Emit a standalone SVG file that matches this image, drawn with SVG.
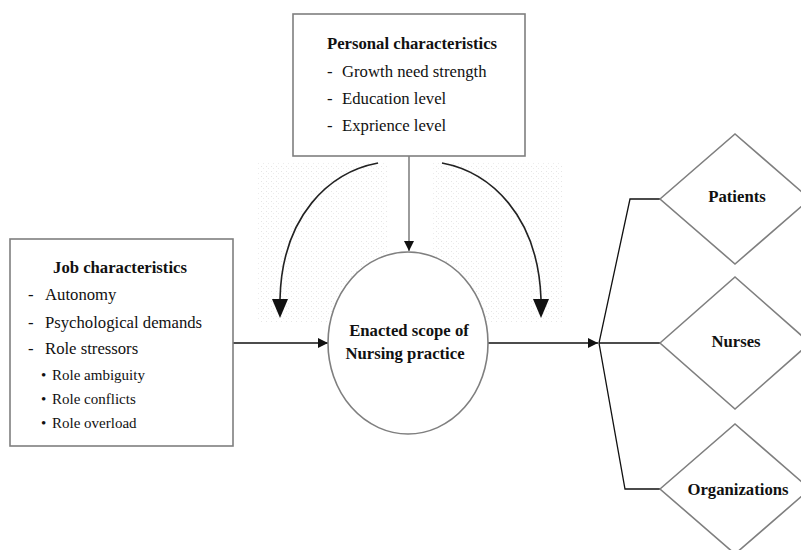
<svg xmlns="http://www.w3.org/2000/svg" width="801" height="550" viewBox="0 0 801 550">
<style>
.box{fill:#fff;stroke:#7f7f7f;stroke-width:1.6}
.t{font-family:"Liberation Serif","Times New Roman",serif;fill:#111}
.b{font-weight:bold;font-size:16.7px}
.r{font-size:16.7px}
.s{font-size:15px}
.ln{fill:none;stroke:#111;stroke-width:1.3}
.arc{fill:none;stroke:#222;stroke-width:1.6}
.gl{fill:none;stroke:#666;stroke-width:1.3}
</style>
<defs>
<pattern id="dots" width="5" height="5" patternUnits="userSpaceOnUse">
<rect x="1" y="1" width="1" height="1" fill="#e6e6e6"/>
<rect x="3" y="3" width="1" height="1" fill="#ececec"/>
</pattern>
<marker id="ah" markerWidth="10" markerHeight="10" refX="10" refY="5" orient="auto" markerUnits="userSpaceOnUse">
<path d="M0,0 L10,5 L0,10 Z" fill="#111"/>
</marker>
</defs>
<rect x="258" y="162" width="130" height="161" fill="url(#dots)"/>
<rect x="432" y="162" width="131" height="161" fill="url(#dots)"/>
<g id="connectors">
<line class="gl" x1="409" y1="156" x2="409" y2="251" marker-end="url(#ah)"/>
<path class="arc" d="M378,163 C330,172 282,215 280,299"/>
<path d="M272,299 L288,299 L280,318 Z" fill="#111"/>
<path class="arc" d="M442,163 C490,172 538,215 541,299"/>
<path d="M533,299 L549,299 L541,318 Z" fill="#111"/>
<line class="ln" x1="233" y1="343" x2="328" y2="343" marker-end="url(#ah)"/>
<line class="ln" x1="488" y1="343" x2="598" y2="343" marker-end="url(#ah)"/>
<polyline class="ln" points="660,199 630,199 599,343 625,489 660,489"/>
<line class="ln" x1="599" y1="343" x2="660" y2="343"/>
</g>
<g id="personal">
<rect class="box" x="293" y="14" width="232" height="142"/>
<text class="t b" x="412" y="49" text-anchor="middle">Personal characteristics</text>
<text class="t r" x="327" y="77">-</text><text class="t r" x="342" y="77">Growth need strength</text>
<text class="t r" x="327" y="104">-</text><text class="t r" x="342" y="104">Education level</text>
<text class="t r" x="327" y="131">-</text><text class="t r" x="342" y="131">Exprience level</text>
</g>
<g id="job">
<rect class="box" x="10" y="239" width="223" height="207"/>
<text class="t b" x="120" y="273" text-anchor="middle">Job characteristics</text>
<text class="t r" x="28" y="300">-</text><text class="t r" x="45" y="300">Autonomy</text>
<text class="t r" x="28" y="328">-</text><text class="t r" x="45" y="328">Psychological demands</text>
<text class="t r" x="28" y="354">-</text><text class="t r" x="45" y="354">Role stressors</text>
<text class="t s" x="41" y="380">•</text><text class="t s" x="52" y="380">Role ambiguity</text>
<text class="t s" x="41" y="404">•</text><text class="t s" x="52" y="404">Role conflicts</text>
<text class="t s" x="41" y="428">•</text><text class="t s" x="52" y="428">Role overload</text>
</g>
<g id="scope">
<ellipse class="box" cx="408" cy="343" rx="80" ry="91"/>
<text class="t b" x="409" y="336" text-anchor="middle" font-size="17px">Enacted scope of</text>
<text class="t b" x="405" y="359" text-anchor="middle" font-size="17px">Nursing practice</text>
</g>
<g id="patients">
<polygon class="box" points="660,199 735,134 810,199 735,264"/>
<text class="t b" x="737" y="202" text-anchor="middle">Patients</text>
</g>
<g id="nurses">
<polygon class="box" points="660,343 735,277 810,343 735,409"/>
<text class="t b" x="736" y="347" text-anchor="middle">Nurses</text>
</g>
<g id="organizations">
<polygon class="box" points="660,489 735,424 810,489 735,554"/>
<text class="t b" x="738" y="495" text-anchor="middle">Organizations</text>
</g>
</svg>
